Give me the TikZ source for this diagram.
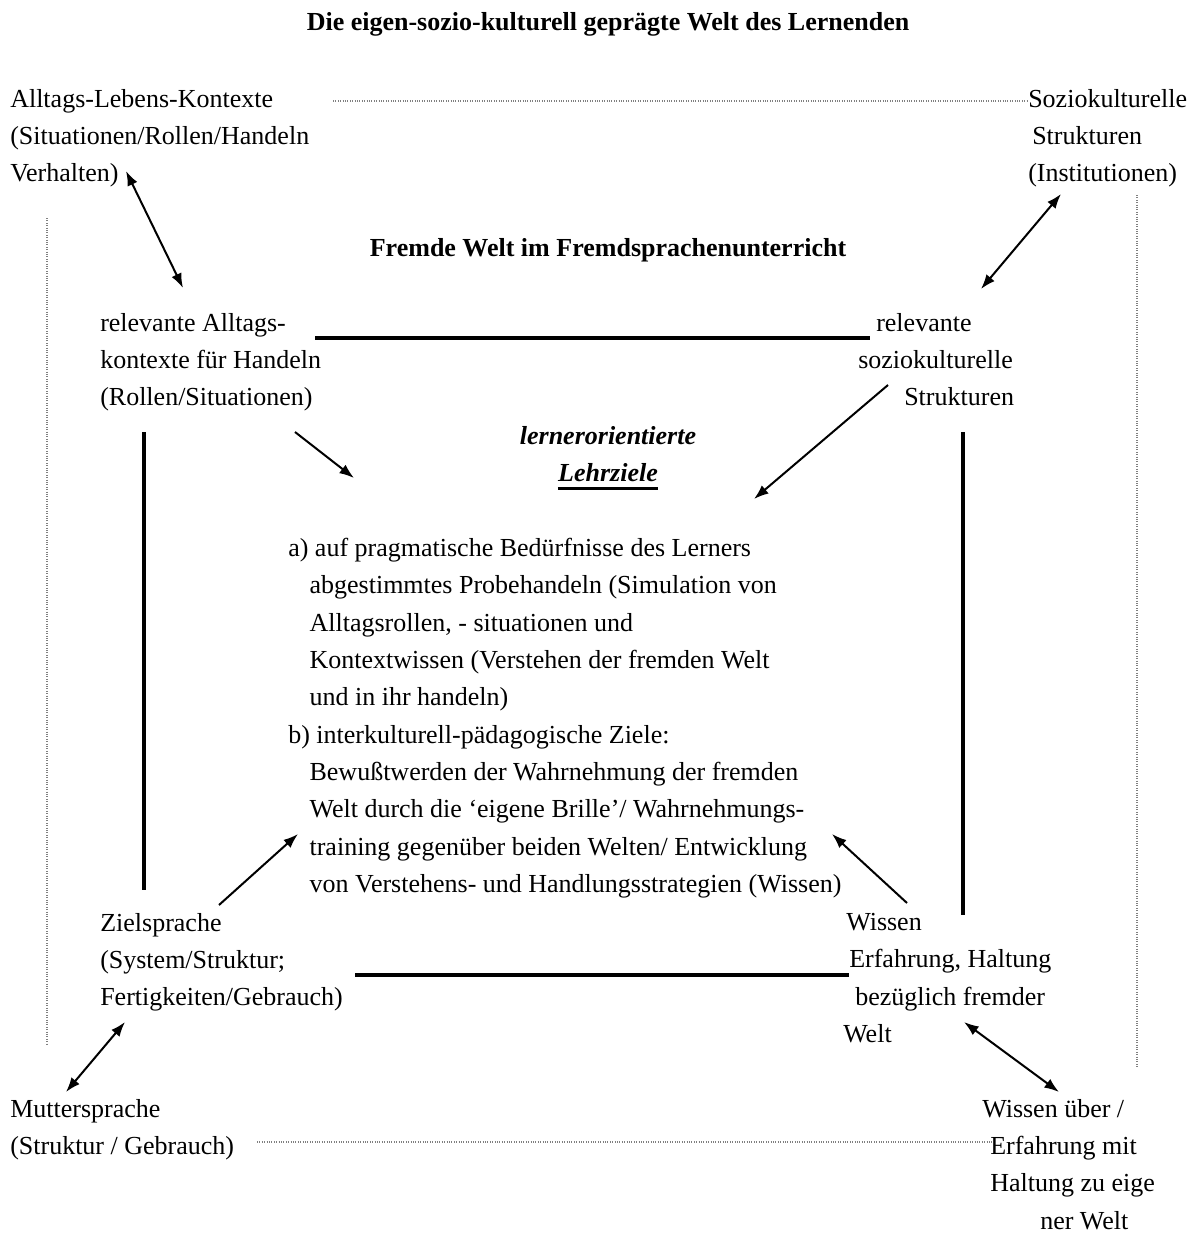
\documentclass[tikz,border=0pt]{standalone}
\usepackage{fontspec}
\setmainfont{Liberation Serif}
\usetikzlibrary{arrows.meta}
\begin{document}
\begin{tikzpicture}[x=0.75pt,y=-0.75pt,
  txt/.style={font=\fontsize{19.5pt}{28pt}\selectfont, inner sep=0pt, align=left, anchor=north west},
  boldtxt/.style={font=\fontsize{19.5pt}{28pt}\selectfont\bfseries, inner sep=0pt, anchor=base},
  bitxt/.style={font=\fontsize{19.5pt}{28pt}\selectfont\bfseries\itshape, inner sep=0pt, anchor=base},
  bar/.style={line width=3pt},
  dotline/.style={densely dotted, gray, line width=0.8pt},
  arr/.style={line width=1.5pt, -{Latex[length=11pt,width=8pt]}},
  darr/.style={line width=1.5pt, {Latex[length=11pt,width=8pt]}-{Latex[length=11pt,width=8pt]}}]
\useasboundingbox[fill=white] (0,0) rectangle (1197,1238);

% titles
\node[boldtxt] (title) at (608,31) {Die eigen-sozio-kulturell geprägte Welt des Lernenden};
\node[boldtxt] (fremd) at (608,256) {Fremde Welt im Fremdsprachenunterricht};

% outer corners
\node[txt] (alltag) at (10,89) {Alltags-Lebens-Kontexte\\(Situationen/Rollen/Handeln\\Verhalten)};
\node[txt] (sozio) at (1028,89) {Soziokulturelle\\\hspace*{3pt}Strukturen\\(Institutionen)};
\node[txt] (mutter) at (10,1099) {Muttersprache\\(Struktur / Gebrauch)};
\node[txt] (eigen) at (982,1099) {Wissen über /\\\hspace*{6pt}Erfahrung mit\\\hspace*{6pt}Haltung zu eige\\\hspace*{43.5pt}ner Welt};

% inner corners
\node[txt] (relA) at (100,313) {relevante Alltags-\\kontexte für Handeln\\(Rollen/Situationen)};
\node[txt] (relS) at (858,313) {\hspace*{13.5pt}relevante\\soziokulturelle\\\hspace*{34.5pt}Strukturen};
\node[txt] (ziel) at (100,913) {Zielsprache\\(System/Struktur;\\Fertigkeiten/Gebrauch)};
\node[txt] (wissen) at (843,913) {\hspace*{2.25pt}Wissen\\\hspace*{4.5pt}Erfahrung, Haltung\\\hspace*{9pt}bezüglich fremder\\Welt};

% centre
\node[bitxt] (lo) at (608,444) {lernerorientierte};
\node[bitxt] (lz) at (608,481) {Lehrziele};
\draw[line width=2.4pt] ([yshift=-5.5pt]lz.base west) -- ([yshift=-5.5pt]lz.base east);

\node[txt] (ziele) at (288,538) {a) auf pragmatische Bedürfnisse des Lerners\\
\hspace*{16pt}abgestimmtes Probehandeln (Simulation von\\
\hspace*{16pt}Alltagsrollen, - situationen und\\
\hspace*{16pt}Kontextwissen (Verstehen der fremden Welt\\
\hspace*{16pt}und in ihr handeln)\\
b) interkulturell-pädagogische Ziele:\\
\hspace*{16pt}Bewußtwerden der Wahrnehmung der fremden\\
\hspace*{16pt}Welt durch die ‘eigene Brille’/ Wahrnehmungs-\\
\hspace*{16pt}training gegenüber beiden Welten/ Entwicklung\\
\hspace*{16pt}von Verstehens- und Handlungsstrategien (Wissen)};

% coordinates
\coordinate (dt1) at (333,101); \coordinate (dt2) at (1028,101);
\coordinate (dl1) at (47,218);  \coordinate (dl2) at (47,1045);
\coordinate (dr1) at (1137,195); \coordinate (dr2) at (1137,1067);
\coordinate (db1) at (257,1142); \coordinate (db2) at (993,1142);

\coordinate (bt1) at (315,338); \coordinate (bt2) at (870,338);
\coordinate (bl1) at (144,432); \coordinate (bl2) at (144,890);
\coordinate (br1) at (963,432); \coordinate (br2) at (963,915);
\coordinate (bb1) at (355,975); \coordinate (bb2) at (849,975);

\coordinate (a1s) at (126,171); \coordinate (a1e) at (183,288);
\coordinate (a2s) at (1061,194); \coordinate (a2e) at (981,289);
\coordinate (a3s) at (66,1092); \coordinate (a3e) at (125,1022);
\coordinate (a4s) at (964,1022); \coordinate (a4e) at (1059,1092);

\coordinate (c1s) at (295,432); \coordinate (c1e) at (354,478);
\coordinate (c2s) at (888,385); \coordinate (c2e) at (754,499);
\coordinate (c3s) at (219,905); \coordinate (c3e) at (298,834);
\coordinate (c4s) at (907,903); \coordinate (c4e) at (832,834);

% dotted frame
\draw[dotline] (dt1) -- (dt2);
\draw[dotline] (dl1) -- (dl2);
\draw[dotline] (dr1) -- (dr2);
\draw[dotline] (db1) -- (db2);

% bold frame
\draw[bar] (bt1) -- (bt2);
\draw[bar] (bl1) -- (bl2);
\draw[bar] (br1) -- (br2);
\draw[bar] (bb1) -- (bb2);

% double arrows
\draw[darr] (a1s) -- (a1e);
\draw[darr] (a2s) -- (a2e);
\draw[darr] (a3s) -- (a3e);
\draw[darr] (a4s) -- (a4e);

% single arrows
\draw[arr] (c1s) -- (c1e);
\draw[arr] (c2s) -- (c2e);
\draw[arr] (c3s) -- (c3e);
\draw[arr] (c4s) -- (c4e);
\end{tikzpicture}
\end{document}
